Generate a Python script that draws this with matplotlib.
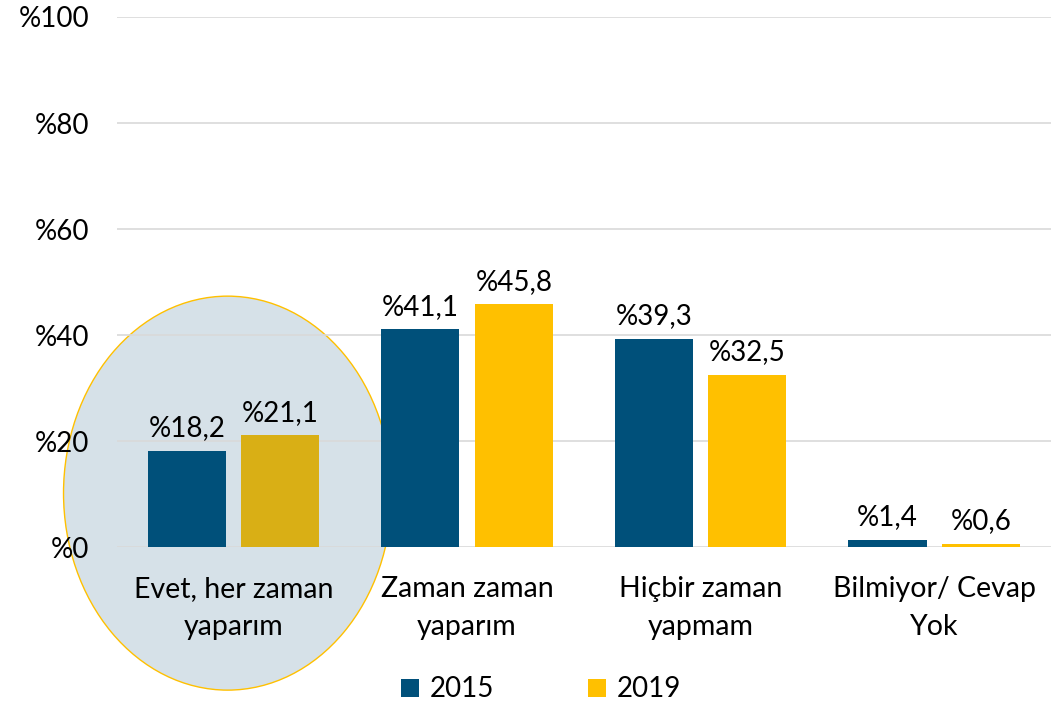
"""
Grouped bar chart: answers for 2015 vs 2019, first group highlighted with an ellipse.
"""

import matplotlib
matplotlib.use("Agg")
import matplotlib.pyplot as plt
from matplotlib.patches import Ellipse, Patch
import numpy as np

# Data
categories = ["Evet, her zaman\nyaparım", "Zaman zaman\nyaparım",
              "Hiçbir zaman\nyapmam", "Bilmiyor/ Cevap\nYok"]
years = ["2015", "2019"]
values_2015 = [18.2, 41.1, 39.3, 1.4]
values_2019 = [21.1, 45.8, 32.5, 0.6]
y_ticks = [0, 20, 40, 60, 80, 100]

BLUE = "#00507A"
YELLOW = "#FFC000"
YELLOW_SHADED = "#D9AF15"   # yellow seen through the highlight ellipse
GRID = "#D9D9D9"

plt.rcParams["font.family"] = ["Lato", "DejaVu Sans"]

fig = plt.figure(figsize=(10.51, 7.07), dpi=100)
ax = fig.add_axes([0.111, 0.226, 0.889, 0.750])

x = np.arange(len(categories))
bar_w = 0.335
offset = 0.2

# highlight ellipse around first group (behind everything)
ell = Ellipse((-0.025, 10.2), width=1.405, height=74.3,
              facecolor="#D6E1E8", edgecolor=YELLOW, linewidth=1.0,
              zorder=0.5, clip_on=False)
ax.add_patch(ell)

colors_2019 = [YELLOW_SHADED] + [YELLOW] * (len(categories) - 1)
bars15 = ax.bar(x - offset, values_2015, width=bar_w, color=BLUE, zorder=3)
bars19 = ax.bar(x + offset, values_2019, width=bar_w, color=colors_2019, zorder=3)

for bars, vals in ((bars15, values_2015), (bars19, values_2019)):
    for b, v in zip(bars, vals):
        ax.annotate("%" + f"{v:.1f}".replace(".", ","),
                    xy=(b.get_x() + b.get_width() / 2, b.get_height()),
                    xytext=(0, 7), textcoords="offset points",
                    ha="center", va="bottom", fontsize=20, color="black",
                    zorder=4)

ax.set_xlim(-0.5, len(categories) - 0.5)
ax.set_ylim(0, 100)
ax.set_yticks(y_ticks)
ax.set_yticklabels(["%" + str(t) for t in y_ticks])
ax.set_xticks(x)
ax.set_xticklabels(categories, linespacing=1.55)
ax.tick_params(axis="both", length=0)
ax.tick_params(axis="y", pad=20, labelsize=20)
ax.tick_params(axis="x", pad=21, labelsize=20.5)

ax.yaxis.grid(True, color=GRID, linewidth=1.2, zorder=1)
ax.set_axisbelow(False)
for line in ax.get_ygridlines():
    line.set_zorder(1)
for s in ax.spines.values():
    s.set_visible(False)
ax.patch.set_alpha(0)

handles = [Patch(facecolor=BLUE), Patch(facecolor=YELLOW)]
fig.legend(handles, years, loc="center", bbox_to_anchor=(0.515, 0.025),
           ncol=2, frameon=False, fontsize=20, handlelength=0.62,
           handleheight=0.62, handletextpad=0.4, columnspacing=3.4)

fig.savefig("out.png", dpi=100)
